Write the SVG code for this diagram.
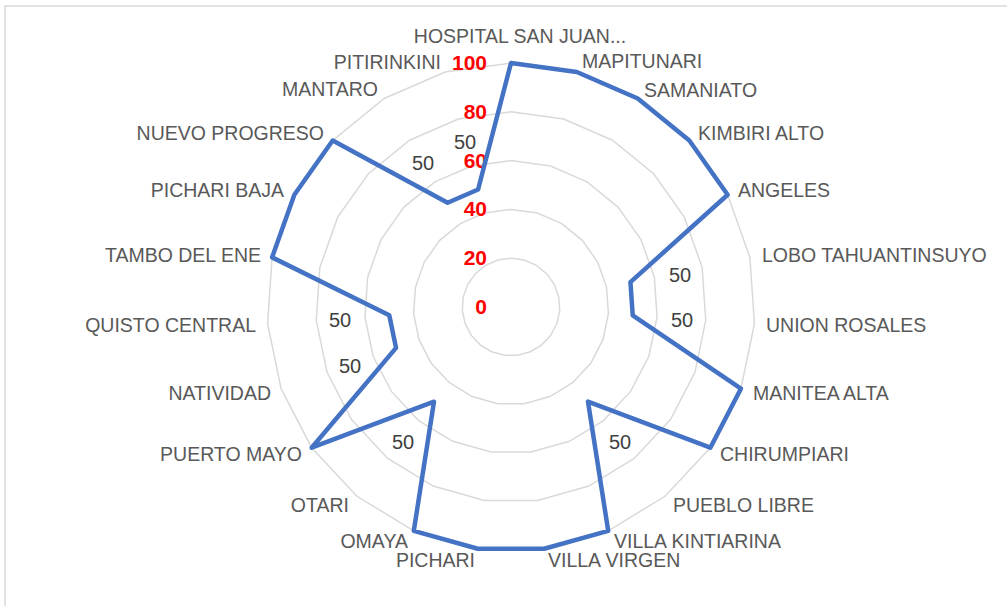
<svg xmlns="http://www.w3.org/2000/svg" xmlns:xlink="http://www.w3.org/1999/xlink" width="1007" height="606" viewBox="0 0 1007 606">
<style>
.ring{fill:none;stroke:#d9d9d9;stroke-width:1.5;vector-effect:non-scaling-stroke}
.cat{font-family:"Liberation Sans",Arial,sans-serif;font-size:19.5px;fill:#595959}
.ax{font-family:"Liberation Sans",Arial,sans-serif;font-size:21px;font-weight:bold;fill:#ff0000;text-anchor:end}
.dl{font-family:"Liberation Sans",Arial,sans-serif;font-size:20px;fill:#404040;text-anchor:middle}
.s{text-anchor:start}.e{text-anchor:end}.m{text-anchor:middle}
.series{fill:none;stroke:#4472c4;stroke-width:4.5;stroke-linejoin:round}
</style>
<defs>
<polygon id="ring" class="ring" points="0,-244 65.83,-234.95 126.78,-208.48 178.32,-166.54 216.65,-112.26 238.9,-49.64 243.43,16.65 229.91,81.71 199.34,140.71 153.99,189.27 97.21,223.8 33.23,241.73 -33.23,241.73 -97.21,223.8 -153.99,189.27 -199.34,140.71 -229.91,81.71 -243.43,16.65 -238.9,-49.64 -216.65,-112.26 -178.32,-166.54 -126.78,-208.48 -65.83,-234.95"/>
</defs>
<rect x="0" y="0" width="1007" height="606" fill="#ffffff"/>
<rect x="5" y="6" width="1010" height="610" fill="none" stroke="#d9d9d9" stroke-width="1.5"/>
<g id="grid">
<use xlink:href="#ring" transform="translate(511 307) scale(0.2)"/>
<use xlink:href="#ring" transform="translate(511 307) scale(0.4)"/>
<use xlink:href="#ring" transform="translate(511 307) scale(0.6)"/>
<use xlink:href="#ring" transform="translate(511 307) scale(0.8)"/>
<use xlink:href="#ring" transform="translate(511 307)"/>
</g>
<g id="axis-labels">
<text class="ax" x="487" y="314">0</text>
<text class="ax" x="487" y="265">20</text>
<text class="ax" x="487" y="216">40</text>
<text class="ax" x="487" y="168">60</text>
<text class="ax" x="487" y="119">80</text>
<text class="ax" x="487" y="70">100</text>
</g>
<g id="connectors">
<polygon class="series" points="511,63 576.83,72.05 637.78,98.52 689.32,140.46 727.65,194.74 630.45,282.18 632.72,315.33 740.91,388.71 710.34,447.71 588,401.64 608.21,530.8 544.23,548.73 477.77,548.73 413.79,530.8 434,401.64 311.66,447.71 396.04,347.86 389.28,315.33 272.1,257.36 294.35,194.74 332.68,140.46 447.61,202.76 478.08,189.52"/>
</g>
<g id="data-labels">
<text class="dl" x="465" y="149">50</text>
<text class="dl" x="423" y="170">50</text>
<text class="dl" x="680" y="282">50</text>
<text class="dl" x="682" y="327">50</text>
<text class="dl" x="620" y="449">50</text>
<text class="dl" x="403" y="449">50</text>
<text class="dl" x="350" y="373">50</text>
<text class="dl" x="340" y="327">50</text>
</g>
<g id="n-hospital"><text class="cat m" x="520" y="43">HOSPITAL SAN JUAN...</text></g>
<g id="n-mapitunari"><text class="cat s" x="582" y="68">MAPITUNARI</text></g>
<g id="n-samaniato"><text class="cat s" x="644" y="97">SAMANIATO</text></g>
<g id="n-kimbiri"><text class="cat s" x="698" y="140">KIMBIRI ALTO</text></g>
<g id="n-angeles"><text class="cat s" x="738" y="197">ANGELES</text></g>
<g id="n-lobo"><text class="cat s" x="762" y="262">LOBO TAHUANTINSUYO</text></g>
<g id="n-union"><text class="cat s" x="766" y="332">UNION ROSALES</text></g>
<g id="n-manitea"><text class="cat s" x="753" y="400">MANITEA ALTA</text></g>
<g id="n-chirumpiari"><text class="cat s" x="720" y="461">CHIRUMPIARI</text></g>
<g id="n-pueblo"><text class="cat s" x="673" y="512">PUEBLO LIBRE</text></g>
<g id="n-kintiarina"><text class="cat s" x="614" y="548">VILLA KINTIARINA</text></g>
<g id="n-virgen"><text class="cat s" x="548" y="567">VILLA VIRGEN</text></g>
<g id="n-pichari"><text class="cat e" x="475" y="567">PICHARI</text></g>
<g id="n-omaya"><text class="cat e" x="408" y="548">OMAYA</text></g>
<g id="n-otari"><text class="cat e" x="349" y="512">OTARI</text></g>
<g id="n-puerto"><text class="cat e" x="302" y="461">PUERTO MAYO</text></g>
<g id="n-natividad"><text class="cat e" x="271" y="400">NATIVIDAD</text></g>
<g id="n-quisto"><text class="cat e" x="256" y="332">QUISTO CENTRAL</text></g>
<g id="n-tambo"><text class="cat e" x="261" y="262">TAMBO DEL ENE</text></g>
<g id="n-picharibaja"><text class="cat e" x="284" y="197">PICHARI BAJA</text></g>
<g id="n-nuevo"><text class="cat e" x="324" y="140">NUEVO PROGRESO</text></g>
<g id="n-mantaro"><text class="cat e" x="378" y="96">MANTARO</text></g>
<g id="n-pitirinkini"><text class="cat e" x="441" y="69">PITIRINKINI</text></g>
</svg>
